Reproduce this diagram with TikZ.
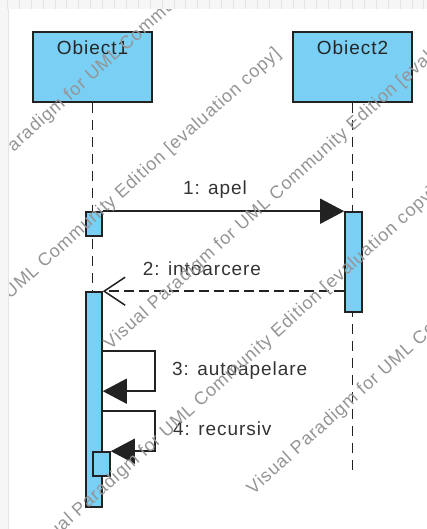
\documentclass[tikz,border=0pt]{standalone}
\usepackage{fontspec}
\newfontfamily\vpfont{Liberation Sans}[LetterSpace=5]
\usetikzlibrary{arrows.meta}
\definecolor{vpblue}{HTML}{7ACFF5}
\definecolor{vpline}{HTML}{222222}
\definecolor{vptext}{HTML}{333333}
\tikzset{
  lifebox/.style={draw=vpline, fill=vpblue, line width=1.6pt, minimum width=119pt, minimum height=70pt, inner sep=0pt},
  actbox/.style={draw=vpline, fill=vpblue, line width=1.6pt, inner sep=0pt, minimum width=16pt},
  boxtext/.style={font=\vpfont\fontsize{19}{22}\selectfont, text=black!85, anchor=base, inner sep=0pt},
  msgtext/.style={font=\vpfont\fontsize{19}{22}\selectfont, text=vptext, anchor=base, inner sep=0pt},
  lifeline/.style={draw=vpline, line width=1.6pt, dash pattern=on 10pt off 7pt},
  call/.style={draw=vpline, line width=1.5pt, -{Triangle[length=24pt,width=25pt]}},
  reply/.style={draw=vpline, line width=1.5pt, dash pattern=on 10pt off 5pt, -{Straight Barb[length=21pt,width=28pt]}},
  watermark/.style={font=\vpfont\fontsize{18}{20}\selectfont, text=black!42, rotate=42, anchor=west, inner sep=0pt},
}

\begin{document}
\begin{tikzpicture}[x=1pt, y=-1pt]
    \useasboundingbox (0,0) rectangle (427,529);
    % objects and lifelines
    \node[lifebox] (obj1) at (92.5,67) {};
    \node[lifebox] (obj2) at (352.5,67) {};
    \node[boxtext] (obj1lbl) at ([yshift=-23pt]obj1.north) {Obiect1};
    \node[boxtext] (obj2lbl) at ([yshift=-23pt]obj2.north) {Obiect2};
    \coordinate (life1end) at (92.5,507);
    \coordinate (life2end) at (352.5,470);
    \draw[lifeline] (obj1) -- (life1end);
    \draw[lifeline] (obj2) -- (life2end);
    % activations
    \node[actbox, minimum height=24pt] (act1a) at (94,224) {};
    \node[actbox, minimum height=100pt, minimum width=17pt] (act2) at (353.5,262) {};
    \node[actbox, minimum height=215pt] (act1b) at (94,399.5) {};
    \node[actbox, minimum height=24pt, minimum width=17pt] (act1c) at (101.5,464) {};
    % messages
    \draw[call] (act1a.north east) -- (act2.north west);
    \draw[reply] ([yshift=-80pt]act2.north west) -- (act1b.north east);
    \draw[call] ([yshift=-60pt]act1b.north east) -- ++(52,0) -- ++(0,40) -- ([yshift=-100pt]act1b.north east);
    \draw[call] ([yshift=-120pt]act1b.north east) -- ++(52,0) -- ++(0,40) -- (act1c.north east);
    \node[msgtext] (lbl1) at (215,195) {1: apel};
    \node[msgtext] (lbl2) at (202,275) {2: intoarcere};
    \node[msgtext, anchor=base west] (lbl3) at (172,375) {3: autoapelare};
    \node[msgtext, anchor=base west] (lbl4) at (173,435) {4: recursiv};
    % evaluation watermark
    \node[watermark] (wm1) at (-43,197) {Visual Paradigm for UML Community Edition [evaluation copy]};
    \node[watermark] (wm2) at (-124.6,414.4) {Visual Paradigm for UML Community Edition [evaluation copy]};
    \node[watermark] (wm3) at (107,346.8) {Visual Paradigm for UML Community Edition [evaluation copy]};
    \node[watermark] (wm4) at (31.5,553.4) {Visual Paradigm for UML Community Edition [evaluation copy]};
    \node[watermark] (wm5) at (250,491.8) {Visual Paradigm for UML Community Edition [evaluation copy]};
    % ruler
    \fill[gray!7] (0,0) rectangle (427,9);
    \fill[gray!7] (0,0) rectangle (8,529);
    \draw[gray!20] (8,9) -- (8,529);
    \foreach \tx in {0,...,35}
      \draw[gray!22, line width=0.8pt] (7.3+11.9*\tx,0) -- (7.3+11.9*\tx,9);
\end{tikzpicture}
\end{document}
